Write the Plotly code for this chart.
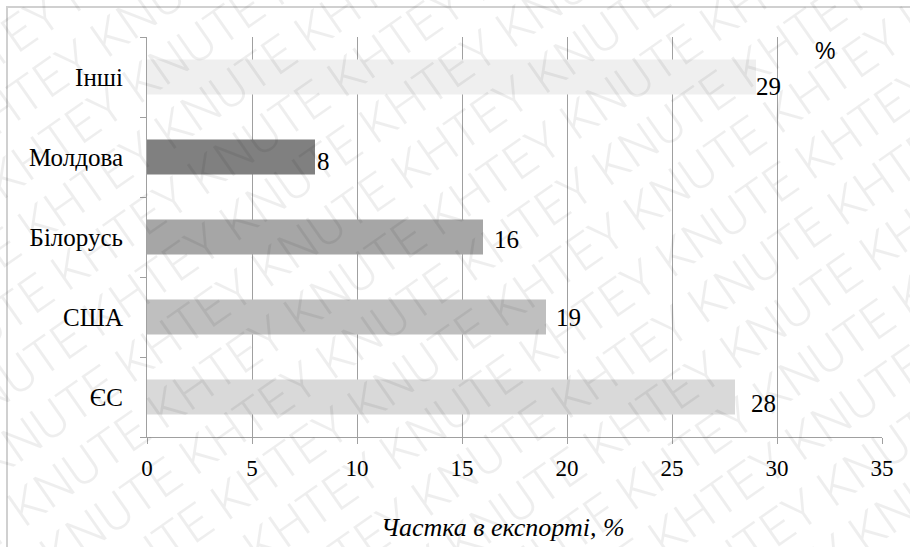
import math
import plotly.graph_objects as go

# Export destinations and their shares, %
categories = ["ЄС", "США", "Білорусь", "Молдова", "Інші"]
shares = [28, 19, 16, 8, 29]
bar_colors = ["#d9d9d9", "#bfbfbf", "#a6a6a6", "#808080", "#efefef"]

# per-label nudges (px): horizontal gap after bar end, vertical shift
label_dx = [14, 8, 9, 0, -2]
label_dy = [-6, 0, -2, -4, -9]

x_ticks = [0, 5, 10, 15, 20, 25, 30, 35]

W, H = 910, 547
L, R, T, B = 147, 28, 37, 110
PW, PH = W - L - R, H - T - B


def px_to_paper(px, py):
    return (px - L) / PW, (H - B - py) / PH


fig = go.Figure()
fig.add_trace(go.Bar(
    x=shares, y=categories, orientation="h",
    marker=dict(color=bar_colors, line=dict(width=0)),
    hoverinfo="x+y",
))

serif = "Liberation Serif"
annotations = []
for cat, val, dx, dy in zip(categories, shares, label_dx, label_dy):
    annotations.append(dict(
        x=val, y=cat, xref="x", yref="y", text=str(val), showarrow=False,
        xanchor="left", yanchor="middle", xshift=dx, yshift=dy,
        font=dict(family=serif, size=25, color="#000"),
    ))

# unit mark in the upper right
ux, uy = px_to_paper(825, 51)
annotations.append(dict(
    x=ux, y=uy, xref="paper", yref="paper", text="%", showarrow=False,
    xanchor="center", yanchor="middle",
    font=dict(family="Liberation Sans", size=23, color="#000"),
))

# axis title
tx, ty = px_to_paper(503, 527)
annotations.append(dict(
    x=tx, y=ty, xref="paper", yref="paper", text="<i>Частка в експорті, %</i>",
    showarrow=False, xanchor="center", yanchor="middle",
    font=dict(family=serif, size=26, color="#000"),
))

# diagonal watermark
phrase = " ".join(["KNUTE", "KHTEY"] * 7)
ang = math.radians(35)
nx, ny = math.sin(ang), math.cos(ang)
for k in range(-10, 11):
    cx = W / 2 + k * 56 * nx
    cy = H / 2 + k * 56 * ny
    ax_, ay_ = px_to_paper(cx, cy)
    annotations.append(dict(
        x=ax_, y=ay_, xref="paper", yref="paper", text=phrase,
        showarrow=False, xanchor="center", yanchor="middle", textangle=-35,
        font=dict(family="Roboto", size=50, weight=300,
                  color="rgba(0,0,0,0.065)"),
    ))

# outer frame of the chart
fx0, fy0 = px_to_paper(7, 7)
fx1, fy1 = px_to_paper(W + 5, H + 5)
shapes = [dict(type="rect", xref="paper", yref="paper",
               x0=fx0, y0=fy1, x1=fx1, y1=fy0,
               line=dict(color="#d0d0d0", width=2), fillcolor="rgba(0,0,0,0)",
               layer="below")]

fig.update_layout(
    width=W, height=H,
    margin=dict(l=L, r=R, t=T, b=B),
    paper_bgcolor="white", plot_bgcolor="white",
    bargap=0.56, showlegend=False,
    font=dict(family=serif),
    annotations=annotations, shapes=shapes,
    xaxis=dict(
        range=[0, 35], tickvals=x_ticks, ticktext=[str(v) for v in x_ticks],
        showgrid=True, gridcolor="#a0a0a0", gridwidth=1,
        showline=True, linecolor="#a0a0a0", linewidth=1,
        ticks="outside", ticklen=6, tickcolor="#a0a0a0",
        ticklabelstandoff=4,
        tickfont=dict(family=serif, size=23, color="#000"),
        zeroline=False, fixedrange=True,
    ),
    yaxis=dict(
        categoryorder="array", categoryarray=categories,
        showgrid=False, showline=True, linecolor="#a0a0a0", linewidth=1,
        ticks="outside", ticklen=6, tickcolor="#a0a0a0", tickson="boundaries",
        ticklabelstandoff=18,
        tickfont=dict(family=serif, size=25, color="#000"),
        zeroline=False, fixedrange=True,
    ),
)

fig.write_html("out.html")
